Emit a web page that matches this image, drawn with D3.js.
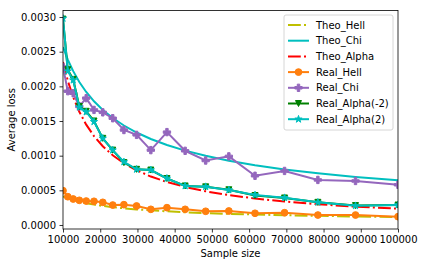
<!DOCTYPE html>
<html>
<head>
<meta charset="utf-8">
<script src="https://cdn.jsdelivr.net/npm/d3@7"></script>
<style>
  body { margin: 0; background: #fff; }
  svg { display: block; font-family: "DejaVu Sans", sans-serif; }
</style>
</head>
<body>
<div id="chart"></div>
<script>
// sample sizes (log-spaced between 1e4 and 1e5)
const sampleSizes = [10000, 11288, 12743, 14384, 16238, 18330, 20691, 23357, 26367, 29764,
  33598, 37927, 42813, 48329, 54556, 61585, 69519, 78476, 88587, 100000]

const theoHell = [0.000411, 0.000384, 0.000360, 0.000336, 0.000315, 0.000294, 0.000275, 0.000257, 0.000241, 0.000225,
  0.000211, 0.000197, 0.000184, 0.000172, 0.000161, 0.000151, 0.000141, 0.000132, 0.000123, 0.000115]
const theoChi = [0.002566, 0.002386, 0.002219, 0.002063, 0.001919, 0.001784, 0.001659, 0.001543, 0.001435, 0.001334,
  0.001241, 0.001154, 0.001073, 0.000998, 0.000928, 0.000863, 0.000802, 0.000746, 0.000694, 0.000645]
const theoAlpha = [0.002350, 0.002082, 0.001844, 0.001634, 0.001447, 0.001282, 0.001136, 0.001006, 0.000891, 0.000790,
  0.000699, 0.000620, 0.000549, 0.000486, 0.000431, 0.000382, 0.000338, 0.000299, 0.000265, 0.000235]
const realHell = [0.000495, 0.000408, 0.000375, 0.000356, 0.000346, 0.000342, 0.000327, 0.000288, 0.000293, 0.000274,
  0.000226, 0.000250, 0.000226, 0.000198, 0.000202, 0.000169, 0.000177, 0.000144, 0.000144, 0.000120]
const realChi = [0.00228, 0.00193, 0.00190, 0.00171, 0.00183, 0.00166, 0.001625, 0.00154, 0.00137, 0.00130,
  0.00108, 0.00134, 0.00107, 0.00093, 0.00099, 0.00071, 0.00078, 0.00065, 0.000635, 0.00058]
const realAlphaNeg2 = [0.00297, 0.00224, 0.00210, 0.00171, 0.00164, 0.00150, 0.00125, 0.00108, 0.00090, 0.000803,
  0.000793, 0.000670, 0.000563, 0.000550, 0.000508, 0.000425, 0.000390, 0.000327, 0.000280, 0.000288]
const realAlpha2 = [0.00298, 0.00222, 0.00209, 0.00170, 0.00163, 0.00149, 0.00125, 0.00108, 0.00091, 0.000803,
  0.000793, 0.000673, 0.000563, 0.000553, 0.000505, 0.000433, 0.000394, 0.000327, 0.000278, 0.000288]

const xTicks = [10000, 20000, 30000, 40000, 50000, 60000, 70000, 80000, 90000, 100000]
const yTicks = [0, 0.0005, 0.001, 0.0015, 0.002, 0.0025, 0.003]

const triangleDown = {
  draw(ctx, size) {
    const s = Math.sqrt(size) / 2
    ctx.moveTo(0, s)
    ctx.lineTo(-s, -s)
    ctx.lineTo(s, -s)
    ctx.closePath()
  }
}

const series = [
  {name: "Theo_Hell", values: theoHell, color: "#bfbf00", dash: "12.8,3.2,2,3.2"},
  {name: "Theo_Chi", values: theoChi, color: "#00bfbf", dash: null},
  {name: "Theo_Alpha", values: theoAlpha, color: "#ff0000", dash: "12.8,3.2,2,3.2"},
  {name: "Real_Hell", values: realHell, color: "#ff7f0e", dash: null, symbol: d3.symbolCircle, size: 36},
  {name: "Real_Chi", values: realChi, color: "#9467bd", dash: null, symbol: d3.symbolCross, size: 30},
  {name: "Real_Alpha(-2)", values: realAlphaNeg2, color: "#008000", dash: null, symbol: triangleDown, size: 36},
  {name: "Real_Alpha(2)", values: realAlpha2, color: "#00bfbf", dash: null, symbol: d3.symbolStar, size: 16}
]

document.addEventListener("DOMContentLoaded", draw)

function draw() {
  const width = 423
  const height = 266
  const margin = {top: 10.5, right: 25, bottom: 37, left: 63}
  const w = width - margin.left - margin.right
  const h = height - margin.top - margin.bottom

  const svg = d3.select("#chart").append("svg")
    .attr("width", width)
    .attr("height", height)

  const g = svg.append("g")
    .attr("transform", "translate(" + margin.left + "," + margin.top + ")")

  const x = d3.scaleLinear().domain([10000, 100000]).range([0, w])
  const y = d3.scaleLinear().domain([-0.0000577, 0.003094]).range([h, 0])

  g.append("clipPath").attr("id", "clip")
    .append("rect").attr("width", w).attr("height", h)

  const plot = g.append("g").attr("clip-path", "url(#clip)")

  const line = d3.line()
    .x((d, i) => x(sampleSizes[i]))
    .y(d => y(d))

  series.forEach(s => {
    plot.append("path")
      .datum(s.values)
      .attr("d", line)
      .attr("fill", "none")
      .attr("stroke", s.color)
      .attr("stroke-width", 2)
      .attr("stroke-dasharray", s.dash)
    if (s.symbol) {
      plot.append("g")
        .selectAll("path")
        .data(s.values)
        .enter()
        .append("path")
        .attr("d", d3.symbol().type(s.symbol).size(s.size))
        .attr("transform", (d, i) => "translate(" + x(sampleSizes[i]) + "," + y(d) + ")")
        .attr("fill", s.color)
        .attr("stroke", s.color)
        .attr("stroke-width", 1)
    }
  })

  // axes
  const xAxis = g.append("g")
    .attr("transform", "translate(0," + h + ")")
    .call(d3.axisBottom(x).tickValues(xTicks).tickFormat(d3.format("d")).tickSizeOuter(0).tickSize(3.5).tickPadding(3.5))
  const yAxis = g.append("g")
    .call(d3.axisLeft(y).tickValues(yTicks).tickFormat(d3.format(".4f")).tickSizeOuter(0).tickSize(3.5).tickPadding(3.5))

  ;[xAxis, yAxis].forEach(a => {
    a.select(".domain").remove()
    a.selectAll("line").attr("stroke", "#000").attr("stroke-width", 0.8)
    a.selectAll("text").attr("font-size", 10).attr("fill", "#000")
      .style("font-family", "DejaVu Sans, sans-serif")
  })

  g.append("rect")
    .attr("width", w).attr("height", h)
    .attr("fill", "none")
    .attr("stroke", "#000")
    .attr("stroke-width", 0.8)

  svg.append("text")
    .attr("x", margin.left + w / 2)
    .attr("y", 257)
    .attr("text-anchor", "middle")
    .attr("font-size", 10)
    .text("Sample size")

  svg.append("text")
    .attr("transform", "translate(15," + (margin.top + h / 2) + ") rotate(-90)")
    .attr("text-anchor", "middle")
    .attr("font-size", 10)
    .text("Average loss")

  // legend
  const legend = svg.append("g").attr("transform", "translate(284,15)")
  legend.append("rect")
    .attr("width", 109).attr("height", 115)
    .attr("rx", 2)
    .attr("fill", "#fff").attr("fill-opacity", 0.8)
    .attr("stroke", "#ccc").attr("stroke-width", 0.8)

  series.forEach((s, i) => {
    const row = legend.append("g").attr("transform", "translate(0," + (10 + i * 15.7) + ")")
    row.append("line")
      .attr("x1", 4).attr("x2", 25)
      .attr("stroke", s.color).attr("stroke-width", 2)
      .attr("stroke-dasharray", s.dash)
    if (s.symbol) {
      row.append("path")
        .attr("d", d3.symbol().type(s.symbol).size(s.size))
        .attr("transform", "translate(14.5,0)")
        .attr("fill", s.color).attr("stroke", s.color).attr("stroke-width", 1)
    }
    row.append("text")
      .attr("x", 32).attr("y", 3.5)
      .attr("font-size", 10)
      .text(s.name)
  })
}
</script>
</body>
</html>
